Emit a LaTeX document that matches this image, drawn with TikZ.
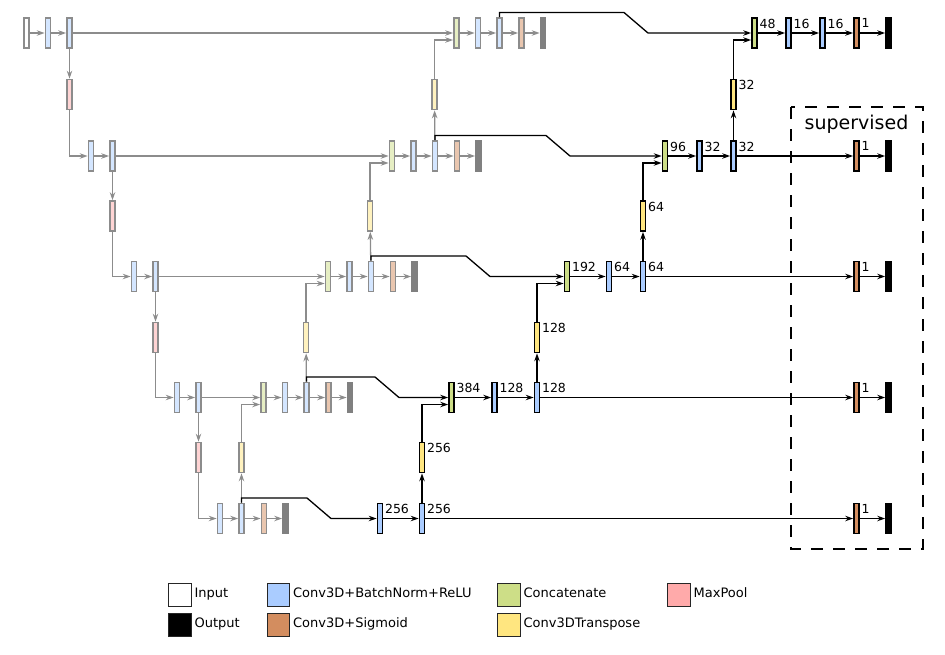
\documentclass[tikz,border=0pt]{standalone}
\usepackage{fontspec}
\setmainfont{DejaVu Sans}
\usetikzlibrary{arrows.meta}
\definecolor{convc}{HTML}{AACCFF}
\definecolor{sigc}{HTML}{D38D5F}
\definecolor{catc}{HTML}{CDDE87}
\definecolor{upc}{HTML}{FFE680}
\definecolor{poolc}{HTML}{FFAAAA}

\begin{document}
\begin{tikzpicture}[x=1pt,y=-1pt]
   \tikzstyle{blk}=[draw, line width=1.4pt, minimum width=5.3pt, minimum height=30.3pt, inner sep=0pt]
   \tikzstyle{inblk}=[blk, fill=white]
   \tikzstyle{convblk}=[blk, fill=convc]
   \tikzstyle{sigblk}=[blk, fill=sigc]
   \tikzstyle{catblk}=[blk, fill=catc]
   \tikzstyle{upblk}=[blk, fill=upc]
   \tikzstyle{outblk}=[blk, fill=black]
   \tikzstyle{finblk}=[blk, draw=black!45, fill=white]
   \tikzstyle{fconv}=[blk, draw=black!45, fill=convc!50]
   \tikzstyle{fsig}=[blk, draw=black!45, fill=sigc!50]
   \tikzstyle{fcat}=[blk, draw=black!45, fill=catc!50]
   \tikzstyle{fup}=[blk, draw=black!45, fill=upc!50]
   \tikzstyle{fpool}=[blk, draw=black!45, fill=poolc!50]
   \tikzstyle{fout}=[blk, draw=black!50, fill=black!50]
   \tikzstyle{num}=[anchor=north west, inner sep=1.5pt, font=\fontsize{12.5}{14}\selectfont]
   \tikzstyle{arr}=[-{Stealth[length=8pt,width=5.5pt]}, line width=1.3pt]
   \tikzstyle{farr}=[arr, draw=black!45]
   \tikzstyle{key}=[draw=black!85, line width=1.4pt, minimum size=22.5pt, inner sep=0pt]
   \tikzstyle{keytxt}=[anchor=west, inner sep=2.5pt, text height=0.75em, text depth=0.2em, font=\fontsize{13}{15}\selectfont]

\useasboundingbox (0,0) rectangle (945,654);

% encoder (faded)
\node[finblk] (in0) at (26.5,33) {};
\node[fconv] (e0a) at (48,33) {};
\node[fconv] (e0b) at (69.5,33) {};
\node[fpool] (p0) at (69.5,94.5) {};
\node[fconv] (e1a) at (91,156) {};
\node[fconv] (e1b) at (112.5,156) {};
\node[fpool] (p1) at (112.5,216) {};
\node[fconv] (e2a) at (134,276.5) {};
\node[fconv] (e2b) at (155.5,276.5) {};
\node[fpool] (p2) at (155.5,337.5) {};
\node[fconv] (e3a) at (177,397.5) {};
\node[fconv] (e3b) at (198.5,397.5) {};
\node[fpool] (p3) at (198.5,457.5) {};
\node[fconv] (e4a) at (220,518.5) {};
\node[fconv] (e4b) at (241.5,518.5) {};
\node[fsig] (fs4) at (264,518.5) {};
\node[fout] (fo4) at (285.5,518.5) {};

\draw[farr] (in0) -- (e0a);
\draw[farr] (e0a) -- (e0b);
\draw[farr] (e0b) -- (p0);
\draw[farr] (p0.south) |- (e1a.west);
\draw[farr] (e1a) -- (e1b);
\draw[farr] (e1b) -- (p1);
\draw[farr] (p1.south) |- (e2a.west);
\draw[farr] (e2a) -- (e2b);
\draw[farr] (e2b) -- (p2);
\draw[farr] (p2.south) |- (e3a.west);
\draw[farr] (e3a) -- (e3b);
\draw[farr] (e3b) -- (p3);
\draw[farr] (p3.south) |- (e4a.west);
\draw[farr] (e4a) -- (e4b);
\draw[farr] (e4b) -- (fs4);
\draw[farr] (fs4) -- (fo4);

% nested decoder (faded)
\foreach \r/\xx/\yy/\mm in {3/263.5/397.5/457.5, 2/328/276.5/337.5, 1/392/156/216, 0/456.5/33/94.5} {
  \node[fup] (fu\r) at ({\xx-22},\mm) {};
  \node[fcat] (fk\r) at (\xx,\yy) {};
  \node[fconv] (fa\r) at ({\xx+21.5},\yy) {};
  \node[fconv] (fb\r) at ({\xx+43},\yy) {};
  \node[fsig] (fs\r) at ({\xx+65},\yy) {};
  \node[fout] (fo\r) at ({\xx+86.5},\yy) {};
  \draw[farr] (fk\r) -- (fa\r);
  \draw[farr] (fa\r) -- (fb\r);
  \draw[farr] (fb\r) -- (fs\r);
  \draw[farr] (fs\r) -- (fo\r);
  \draw[farr] (fu\r.north) |- ([yshift=-7pt]fk\r.west);
}
\draw[farr] (e4b) -- (fu3);
\draw[farr] (fb3) -- (fu2);
\draw[farr] (fb2) -- (fu1);
\draw[farr] (fb1) -- (fu0);
\draw[farr] (e0b) -- (fk0);
\draw[farr] (e1b) -- (fk1);
\draw[farr] (e2b) -- (fk2);
\draw[farr] (e3b) -- (fk3);

% decoder
\node[convblk, label={[num]north east:256}] (d4a) at (380,518.5) {};
\node[convblk, label={[num]north east:256}] (d4b) at (422,518.5) {};
\node[upblk, label={[num]north east:256}] (u3) at (422,457.5) {};
\node[catblk, label={[num]north east:384}] (k3) at (451.5,397.5) {};
\node[convblk, label={[num]north east:128}] (d3a) at (494.5,397.5) {};
\node[convblk, label={[num]north east:128}] (d3b) at (537,397.5) {};
\node[upblk, label={[num]north east:128}] (u2) at (537,337.5) {};
\node[catblk, label={[num]north east:192}] (k2) at (567,276.5) {};
\node[convblk, label={[num]north east:64}] (d2a) at (609,276.5) {};
\node[convblk, label={[num]north east:64}] (d2b) at (643,276.5) {};
\node[upblk, label={[num]north east:64}] (u1) at (643,216) {};
\node[catblk, label={[num]north east:96}] (k1) at (665,156) {};
\node[convblk, label={[num]north east:32}] (d1a) at (699.5,156) {};
\node[convblk, label={[num]north east:32}] (d1b) at (733.5,156) {};
\node[upblk, label={[num]north east:32}] (u0) at (733.5,94.5) {};
\node[catblk, label={[num]north east:48}] (k0) at (754.5,33) {};
\node[convblk, label={[num]north east:16}] (d0a) at (788.5,33) {};
\node[convblk, label={[num]north east:16}] (d0b) at (822.5,33) {};

\foreach \r/\yy in {0/33, 1/156, 2/276.5, 3/397.5, 4/518.5} {
  \node[sigblk, label={[num]north east:1}] (s\r) at (856.5,\yy) {};
  \node[outblk] (o\r) at (888.5,\yy) {};
  \draw[arr] (s\r) -- (o\r);
}

\draw[arr] (e4b.north) |- (307,498) -- (331,518.5) -- (d4a.west);
\draw[arr] (fb3.north) |- (375,377) -- (399,397.5) -- (k3.west);
\draw[arr] (fb2.north) |- (466,256) -- (490,276.5) -- (k2.west);
\draw[arr] (fb1.north) |- (546,135.5) -- (570,156) -- (k1.west);
\draw[arr] (fb0.north) |- (624,12.5) -- (648,33) -- (k0.west);

\draw[arr] (d4a) -- (d4b);
\draw[arr] (d4b) -- (u3);
\draw[arr] (u3.north) |- ([yshift=-7pt]k3.west);
\draw[arr] (k3) -- (d3a);
\draw[arr] (d3a) -- (d3b);
\draw[arr] (d3b) -- (u2);
\draw[arr] (u2.north) |- ([yshift=-7pt]k2.west);
\draw[arr] (k2) -- (d2a);
\draw[arr] (d2a) -- (d2b);
\draw[arr] (d2b) -- (u1);
\draw[arr] (u1.north) |- ([yshift=-7pt]k1.west);
\draw[arr] (k1) -- (d1a);
\draw[arr] (d1a) -- (d1b);
\draw[arr] (d1b) -- (u0);
\draw[arr] (u0.north) |- ([yshift=-7pt]k0.west);
\draw[arr] (k0) -- (d0a);
\draw[arr] (d0a) -- (d0b);
\draw[arr] (d0b) -- (s0);
\draw[arr] (d1b) -- (s1);
\draw[arr] (d2b) -- (s2);
\draw[arr] (d3b) -- (s3);
\draw[arr] (d4b) -- (s4);

% deep supervision
\draw[line width=2pt, dash pattern=on 12pt off 10pt] (790.5,107) rectangle (923,548.5);
\node[font=\fontsize{19}{22}\selectfont, anchor=base, inner sep=0pt] (sup) at (856.5,129.5) {supervised};

% legend
\node[key, fill=white, label={[keytxt]east:Input}] (kin) at (180,595) {};
\node[key, fill=black, label={[keytxt]east:Output}] (kout) at (180,625) {};
\node[key, fill=convc, label={[keytxt]east:Conv3D+BatchNorm+ReLU}] (kconv) at (278.5,595) {};
\node[key, fill=sigc, label={[keytxt]east:Conv3D+Sigmoid}] (ksig) at (278.5,625) {};
\node[key, fill=catc, label={[keytxt]east:Concatenate}] (kcat) at (509,595) {};
\node[key, fill=upc, label={[keytxt]east:Conv3DTranspose}] (kup) at (509,625) {};
\node[key, fill=poolc, label={[keytxt]east:MaxPool}] (kpool) at (679,595) {};

\end{tikzpicture}
\end{document}
